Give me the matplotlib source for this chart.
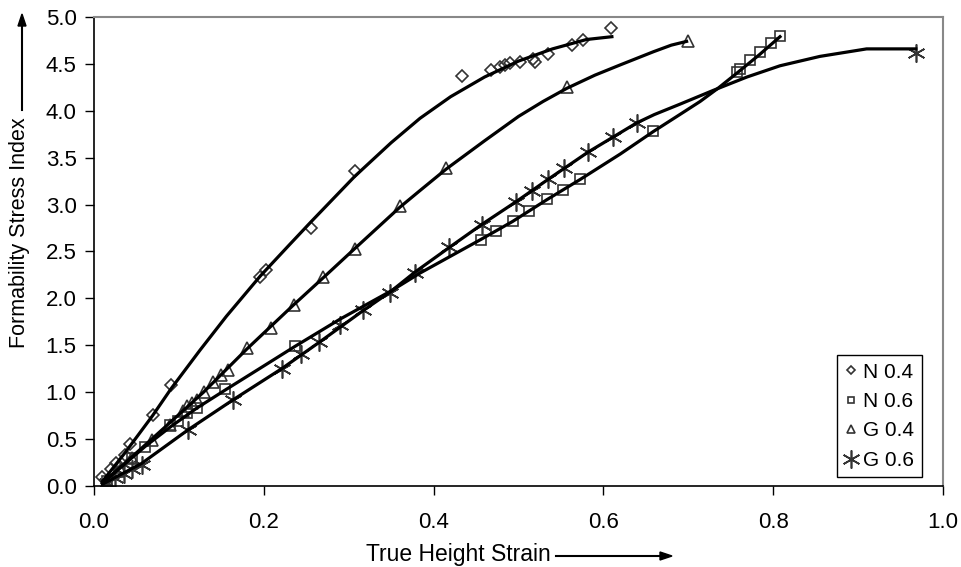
import matplotlib
matplotlib.use("Agg")
import matplotlib.pyplot as plt

# ── DATI ────────────────────────────────────────────────────
# N 0.4 (rombi)
n04_x = [0.010, 0.020, 0.026, 0.037, 0.042, 0.069, 0.091, 0.196, 0.203, 0.256, 0.307,
         0.434, 0.468, 0.478, 0.484, 0.490, 0.502, 0.517, 0.519, 0.535, 0.563, 0.576, 0.609]
n04_y = [0.10, 0.18, 0.25, 0.33, 0.45, 0.76, 1.08, 2.23, 2.30, 2.75, 3.36,
         4.37, 4.43, 4.47, 4.49, 4.51, 4.52, 4.55, 4.52, 4.61, 4.70, 4.76, 4.88]
n04_cx = [0.010, 0.037, 0.069, 0.091, 0.125, 0.156, 0.196, 0.230, 0.256, 0.307, 0.350,
          0.384, 0.420, 0.460, 0.500, 0.540, 0.580, 0.610]
n04_cy = [0.05, 0.36, 0.75, 1.04, 1.45, 1.81, 2.24, 2.57, 2.82, 3.30, 3.66,
          3.92, 4.15, 4.36, 4.53, 4.66, 4.76, 4.79]

# N 0.6 (quadrati)
n06_x = [0.015, 0.030, 0.045, 0.060, 0.090, 0.099, 0.110, 0.121, 0.154, 0.237,
         0.456, 0.474, 0.493, 0.512, 0.533, 0.552, 0.573, 0.659,
         0.757, 0.761, 0.773, 0.784, 0.797, 0.808]
n06_y = [0.05, 0.15, 0.30, 0.42, 0.65, 0.69, 0.78, 0.83, 1.03, 1.49,
         2.62, 2.72, 2.83, 2.93, 3.06, 3.16, 3.27, 3.78,
         4.41, 4.45, 4.54, 4.63, 4.72, 4.80]
n06_cx = [0.010, 0.060, 0.090, 0.121, 0.154, 0.200, 0.237, 0.290, 0.350, 0.384, 0.420,
          0.456, 0.493, 0.533, 0.573, 0.620, 0.659, 0.690, 0.714, 0.735, 0.757, 0.784, 0.808]
n06_cy = [0.03, 0.42, 0.63, 0.83, 1.02, 1.28, 1.49, 1.78, 2.08, 2.27, 2.45,
          2.63, 2.82, 3.05, 3.27, 3.54, 3.78, 3.96, 4.10, 4.24, 4.40, 4.60, 4.79]

# G 0.4 (triangoli)
g04_x = [0.015, 0.030, 0.045, 0.068, 0.090, 0.105, 0.110, 0.115, 0.121, 0.129, 0.140,
         0.150, 0.158, 0.180, 0.209, 0.235, 0.270, 0.307, 0.360, 0.415, 0.557, 0.700]
g04_y = [0.05, 0.20, 0.30, 0.49, 0.65, 0.80, 0.85, 0.88, 0.92, 1.00, 1.11,
         1.18, 1.24, 1.47, 1.68, 1.93, 2.23, 2.53, 2.98, 3.39, 4.25, 4.74]
g04_cx = [0.010, 0.068, 0.129, 0.180, 0.235, 0.270, 0.307, 0.360, 0.384, 0.415, 0.460,
          0.500, 0.529, 0.557, 0.590, 0.620, 0.659, 0.680, 0.698]
g04_cy = [0.03, 0.50, 1.00, 1.46, 1.93, 2.22, 2.53, 2.97, 3.15, 3.38, 3.68,
          3.94, 4.10, 4.24, 4.38, 4.49, 4.63, 4.70, 4.74]

# G 0.6 (asterischi)
g06_x = [0.015, 0.025, 0.035, 0.045, 0.056, 0.111, 0.164, 0.221, 0.244, 0.265, 0.290,
         0.317, 0.349, 0.378, 0.418, 0.457, 0.497, 0.516, 0.535, 0.554, 0.582,
         0.611, 0.639, 0.968]
g06_y = [0.03, 0.08, 0.13, 0.18, 0.22, 0.60, 0.92, 1.25, 1.41, 1.53, 1.72,
         1.88, 2.06, 2.27, 2.55, 2.78, 3.03, 3.15, 3.27, 3.39, 3.56,
         3.72, 3.87, 4.62]
g06_cx = [0.010, 0.056, 0.111, 0.164, 0.221, 0.265, 0.317, 0.349, 0.378, 0.418, 0.457,
          0.497, 0.535, 0.582, 0.639, 0.660, 0.690, 0.730, 0.769, 0.808, 0.855, 0.910, 0.968]
g06_cy = [0.02, 0.24, 0.60, 0.92, 1.25, 1.53, 1.87, 2.07, 2.28, 2.54, 2.79,
          3.03, 3.27, 3.56, 3.87, 3.96, 4.07, 4.22, 4.36, 4.48, 4.58, 4.66, 4.66]

x_ticks = [0.0, 0.2, 0.4, 0.6, 0.8, 1.0]
y_ticks = [0.0, 0.5, 1.0, 1.5, 2.0, 2.5, 3.0, 3.5, 4.0, 4.5, 5.0]
# ────────────────────────────────────────────────────────────

plt.rcParams["font.family"] = ["Liberation Sans", "DejaVu Sans"]
MK = "#333333"

fig = plt.figure(figsize=(9.62, 5.67), dpi=100)
ax = fig.add_axes([94 / 962, 1 - 486 / 567, 849 / 962, 469 / 567])

serie = [
    ("N 0.4", n04_x, n04_y, n04_cx, n04_cy, "D", 6.5),
    ("N 0.6", n06_x, n06_y, n06_cx, n06_cy, "s", 7),
    ("G 0.4", g04_x, g04_y, g04_cx, g04_cy, "^", 8),
    ("G 0.6", g06_x, g06_y, g06_cx, g06_cy, (6, 2, 0), 13),
]
for nome, x, y, cx, cy, mk, ms in serie:
    ax.plot(x, y, linestyle="none", marker=mk, markersize=ms, markerfacecolor="none",
            markeredgecolor=MK, markeredgewidth=1.2, label=nome, zorder=2)
    ax.plot(cx, cy, color="black", linewidth=2.3, zorder=3, solid_joinstyle="round")

ax.set_xlim(0, 1.0)
ax.set_ylim(0, 5.0)
ax.set_xticks(x_ticks)
ax.set_yticks(y_ticks)
ax.set_xticklabels([f"{v:.1f}" for v in x_ticks])
ax.set_yticklabels([f"{v:.1f}" for v in y_ticks])
ax.tick_params(axis="both", direction="out", length=6.5, width=1, labelsize=16)
ax.tick_params(axis="x", pad=12)
ax.tick_params(axis="y", pad=6)

for lato in ("top", "right"):
    ax.spines[lato].set_color("#888888")
    ax.spines[lato].set_linewidth(1.5)
for lato in ("left", "bottom"):
    ax.spines[lato].set_color("black")
    ax.spines[lato].set_linewidth(1.2)

leg = ax.legend(loc="lower right", bbox_to_anchor=(0.975, 0.019), fontsize=15,
                frameon=True, fancybox=False, edgecolor="black", framealpha=1,
                handlelength=0.6, handletextpad=0.3, borderpad=0.35,
                labelspacing=0.5, borderaxespad=0)
leg.get_frame().set_linewidth(1.0)
for h, (_, _, _, _, _, mk, ms) in zip(leg.legend_handles, serie):
    h.set_markersize(ms * 0.7 if mk != (6, 2, 0) else ms)

# etichette con freccia
fig.text(366 / 962, 1 - 555 / 567, "True Height Strain", fontsize=16.5,
         ha="left", va="center")
fig.add_artist(plt.Line2D([556 / 962, 665 / 962], [1 - 556 / 567, 1 - 556 / 567],
                          color="black", linewidth=1.5))
fig.patches.append(plt.Polygon([[672 / 962, 1 - 556 / 567], [660 / 962, 1 - 552 / 567],
                                [660 / 962, 1 - 560 / 567]], closed=True,
                               color="black", transform=fig.transFigure))

fig.text(20 / 962, 1 - 233 / 567, "Formability Stress Index", fontsize=15.5,
         rotation=90, ha="center", va="center")
fig.add_artist(plt.Line2D([22 / 962, 22 / 962], [1 - 110 / 567, 1 - 24 / 567],
                          color="black", linewidth=1.5))
fig.patches.append(plt.Polygon([[22 / 962, 1 - 14 / 567], [18 / 962, 1 - 26 / 567],
                                [26 / 962, 1 - 26 / 567]], closed=True,
                               color="black", transform=fig.transFigure))

fig.savefig("out.png", dpi=100, facecolor="white")
